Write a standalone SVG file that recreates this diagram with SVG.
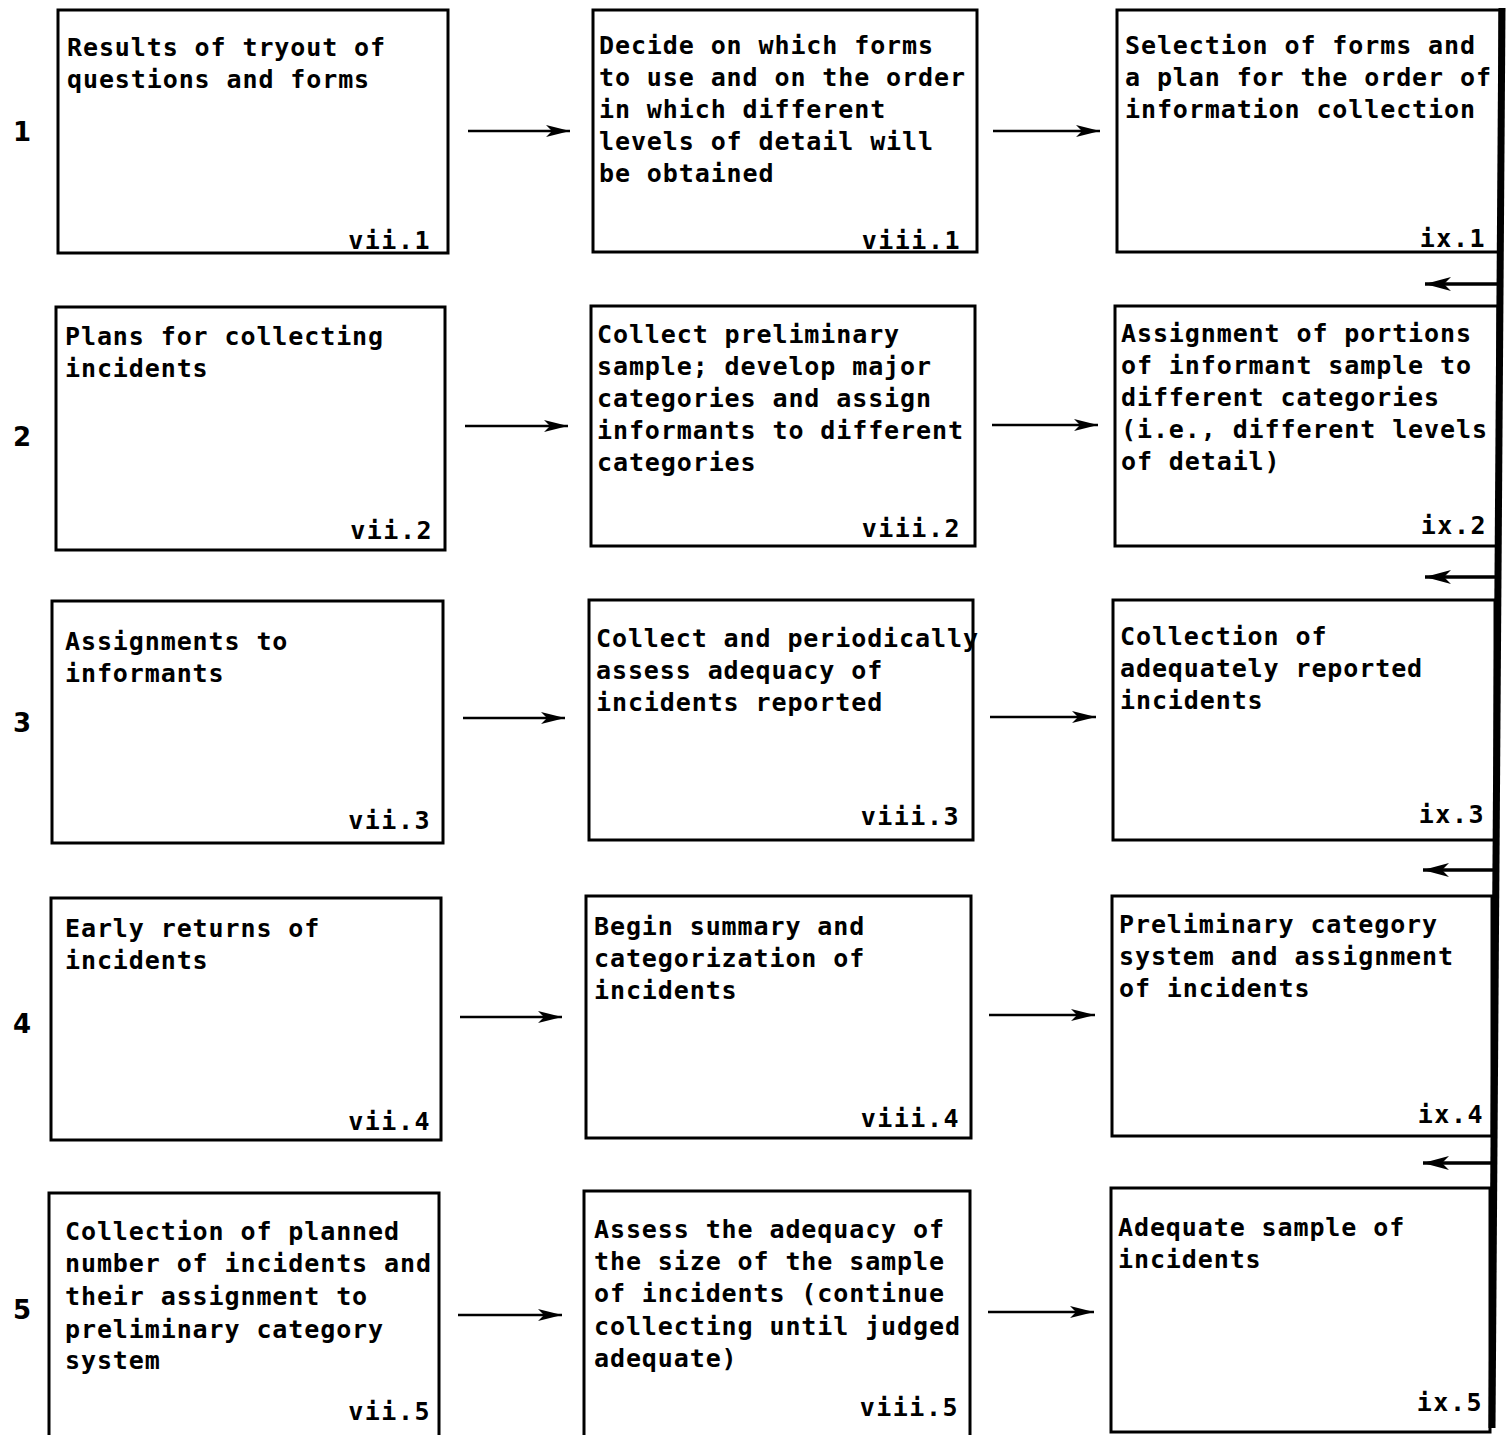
<svg xmlns="http://www.w3.org/2000/svg" width="1508" height="1435" viewBox="0 0 1508 1435">
<style>
.box{fill:#fff;stroke:#000;stroke-width:3}
.t{font-family:"DejaVu Sans Mono","Liberation Mono",monospace;font-size:25px;font-weight:bold;letter-spacing:0.9px;fill:#000}
.lb{font-family:"DejaVu Sans Mono","Liberation Mono",monospace;font-size:25px;font-weight:bold;letter-spacing:1.5px;fill:#000;text-anchor:end}
.n{font-family:"DejaVu Sans","Liberation Sans",sans-serif;font-size:26px;font-weight:bold;fill:#000}
.c{stroke:#000;stroke-width:2.5;fill:none}
.r{stroke:#000;stroke-width:3.5;fill:none}
</style>
<defs>
<marker id="ah" markerUnits="userSpaceOnUse" markerWidth="26" markerHeight="16" refX="24" refY="8" orient="auto">
<path d="M0,2 L24,8 L0,14 L6,8 Z" fill="#000"/>
</marker>
<marker id="ah2" markerUnits="userSpaceOnUse" markerWidth="28" markerHeight="18" refX="26" refY="9" orient="auto">
<path d="M0,2 L26,9 L0,16 L7,9 Z" fill="#000"/>
</marker>
</defs>
<rect width="1508" height="1435" fill="#fff"/>
<g id="rownums">
<text class="n" x="13" y="141">1</text>
<text class="n" x="13" y="446">2</text>
<text class="n" x="13" y="732">3</text>
<text class="n" x="13" y="1033">4</text>
<text class="n" x="13" y="1319">5</text>
</g>
<g id="r1c1"><rect class="box" x="58" y="10" width="390" height="243"/>
<text class="t" x="67" y="56">Results of tryout of</text><text class="t" x="67" y="88">questions and forms</text>
<text class="lb" x="431" y="249">vii.1</text></g>
<g id="r1c2"><rect class="box" x="593" y="10" width="384" height="242"/>
<text class="t" x="599" y="54">Decide on which forms</text><text class="t" x="599" y="86">to use and on the order</text><text class="t" x="599" y="118">in which different</text><text class="t" x="599" y="150">levels of detail will</text><text class="t" x="599" y="182">be obtained</text>
<text class="lb" x="961" y="249">viii.1</text></g>
<g id="r1c3"><rect class="box" x="1117" y="10" width="383" height="242"/>
<text class="t" x="1125" y="54">Selection of forms and</text><text class="t" x="1125" y="86">a plan for the order of</text><text class="t" x="1125" y="118">information collection</text>
<text class="lb" x="1486" y="247">ix.1</text></g>

<g id="r2c1"><rect class="box" x="56" y="307" width="389" height="243"/>
<text class="t" x="65" y="345">Plans for collecting</text><text class="t" x="65" y="377">incidents</text>
<text class="lb" x="433" y="539">vii.2</text></g>
<g id="r2c2"><rect class="box" x="591" y="306" width="384" height="240"/>
<text class="t" x="597" y="343">Collect preliminary</text><text class="t" x="597" y="375">sample; develop major</text><text class="t" x="597" y="407">categories and assign</text><text class="t" x="597" y="439">informants to different</text><text class="t" x="597" y="471">categories</text>
<text class="lb" x="961" y="537">viii.2</text></g>
<g id="r2c3"><rect class="box" x="1115" y="306" width="383" height="240"/>
<text class="t" x="1121" y="342">Assignment of portions</text><text class="t" x="1121" y="374">of informant sample to</text><text class="t" x="1121" y="406">different categories</text><text class="t" x="1121" y="438">(i.e., different levels</text><text class="t" x="1121" y="470">of detail)</text>
<text class="lb" x="1487" y="534">ix.2</text></g>

<g id="r3c1"><rect class="box" x="52" y="601" width="391" height="242"/>
<text class="t" x="65" y="650">Assignments to</text><text class="t" x="65" y="682">informants</text>
<text class="lb" x="431" y="829">vii.3</text></g>
<g id="r3c2"><rect class="box" x="589" y="600" width="384" height="240"/>
<text class="t" x="596" y="647">Collect and periodically</text><text class="t" x="596" y="679">assess adequacy of</text><text class="t" x="596" y="711">incidents reported</text>
<text class="lb" x="960" y="825">viii.3</text></g>
<g id="r3c3"><rect class="box" x="1113" y="600" width="382" height="240"/>
<text class="t" x="1120" y="645">Collection of</text><text class="t" x="1120" y="677">adequately reported</text><text class="t" x="1120" y="709">incidents</text>
<text class="lb" x="1485" y="823">ix.3</text></g>

<g id="r4c1"><rect class="box" x="51" y="898" width="390" height="242"/>
<text class="t" x="65" y="937">Early returns of</text><text class="t" x="65" y="969">incidents</text>
<text class="lb" x="431" y="1130">vii.4</text></g>
<g id="r4c2"><rect class="box" x="586" y="896" width="385" height="242"/>
<text class="t" x="594" y="935">Begin summary and</text><text class="t" x="594" y="967">categorization of</text><text class="t" x="594" y="999">incidents</text>
<text class="lb" x="960" y="1127">viii.4</text></g>
<g id="r4c3"><rect class="box" x="1112" y="896" width="380" height="240"/>
<text class="t" x="1119" y="933">Preliminary category</text><text class="t" x="1119" y="965">system and assignment</text><text class="t" x="1119" y="997">of incidents</text>
<text class="lb" x="1484" y="1123">ix.4</text></g>

<g id="r5c1"><rect class="box" x="49" y="1193" width="390" height="250"/>
<text class="t" x="65" y="1240">Collection of planned</text><text class="t" x="65" y="1272">number of incidents and</text><text class="t" x="65" y="1305">their assignment to</text><text class="t" x="65" y="1338">preliminary category</text><text class="t" x="65" y="1369">system</text>
<text class="lb" x="431" y="1420">vii.5</text></g>
<g id="r5c2"><rect class="box" x="584" y="1191" width="386" height="250"/>
<text class="t" x="594" y="1238">Assess the adequacy of</text><text class="t" x="594" y="1270">the size of the sample</text><text class="t" x="594" y="1302">of incidents (continue</text><text class="t" x="594" y="1335">collecting until judged</text><text class="t" x="594" y="1367">adequate)</text>
<text class="lb" x="959" y="1416">viii.5</text></g>
<g id="r5c3"><rect class="box" x="1111" y="1188" width="379" height="244"/>
<text class="t" x="1118" y="1236">Adequate sample of</text><text class="t" x="1118" y="1268">incidents</text>
<text class="lb" x="1483" y="1411">ix.5</text></g>

<g id="connectors">
<line class="c" x1="468" y1="131" x2="570" y2="131" marker-end="url(#ah)"/>
<line class="c" x1="993" y1="131" x2="1100" y2="131" marker-end="url(#ah)"/>
<line class="c" x1="465" y1="426" x2="568" y2="426" marker-end="url(#ah)"/>
<line class="c" x1="992" y1="425" x2="1098" y2="425" marker-end="url(#ah)"/>
<line class="c" x1="463" y1="718" x2="565" y2="718" marker-end="url(#ah)"/>
<line class="c" x1="990" y1="717" x2="1096" y2="717" marker-end="url(#ah)"/>
<line class="c" x1="460" y1="1017" x2="562" y2="1017" marker-end="url(#ah)"/>
<line class="c" x1="989" y1="1015" x2="1095" y2="1015" marker-end="url(#ah)"/>
<line class="c" x1="458" y1="1315" x2="562" y2="1315" marker-end="url(#ah)"/>
<line class="c" x1="988" y1="1312" x2="1094" y2="1312" marker-end="url(#ah)"/>
<line x1="1502" y1="8" x2="1492" y2="1428" stroke="#000" stroke-width="7"/>
<line class="r" x1="1499" y1="284" x2="1425" y2="284" marker-end="url(#ah2)"/>
<line class="r" x1="1497" y1="577" x2="1425" y2="577" marker-end="url(#ah2)"/>
<line class="r" x1="1495" y1="870" x2="1423" y2="870" marker-end="url(#ah2)"/>
<line class="r" x1="1493" y1="1163" x2="1423" y2="1163" marker-end="url(#ah2)"/>
</g>
</svg>
